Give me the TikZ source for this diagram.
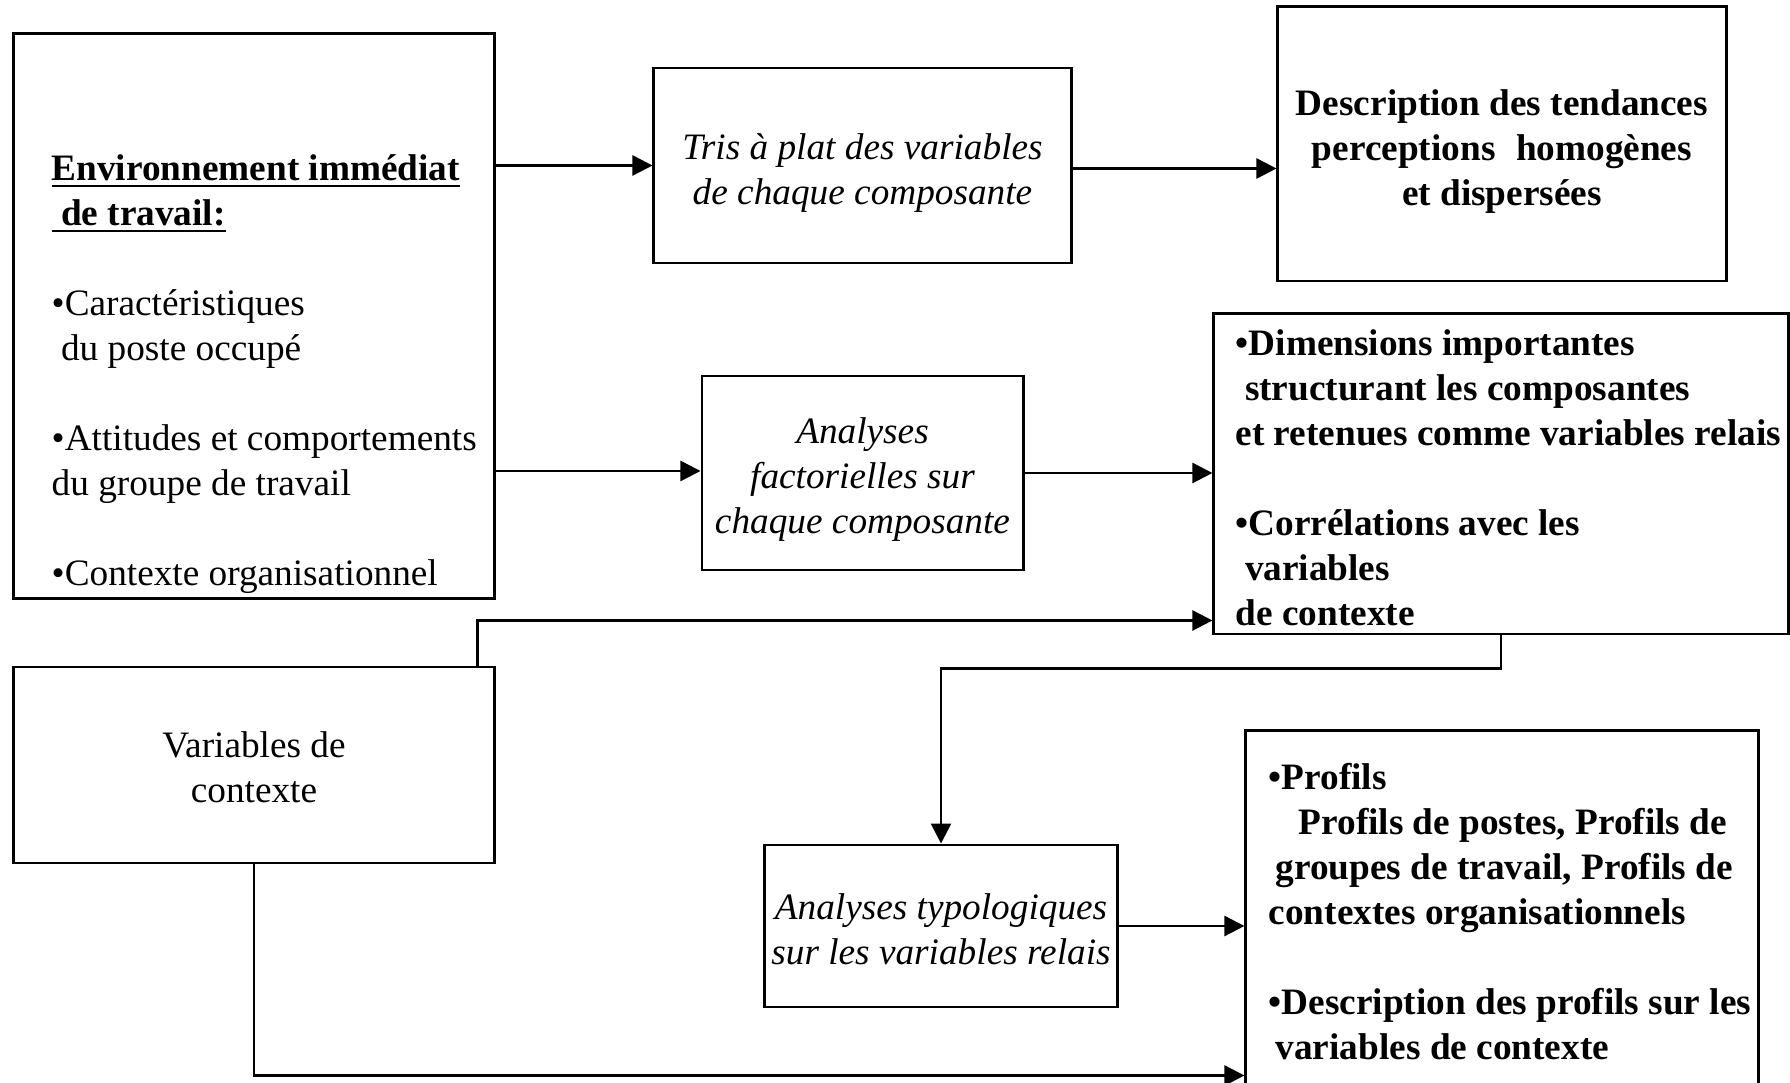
\documentclass[tikz,border=0pt]{standalone}
\usepackage{fontspec}
\setmainfont{Liberation Serif}
\usetikzlibrary{arrows.meta}

\begin{document}
\begin{tikzpicture}[
  x=0.01cm, y=-0.01cm,
  font=\fontsize{10.6}{12.8}\selectfont,
  box/.style={draw, line width=0.8pt, inner sep=0pt},
  note/.style={anchor=north west, inner sep=0pt, align=left},
  caption/.style={inner sep=0pt, align=center},
  flow/.style={-{Triangle[length=2mm, width=2mm]}, line width=0.7pt}
]
  \useasboundingbox (0,0) rectangle (1790,1083);
  \clip (0,0) rectangle (1790,1083);

  \node[box, minimum width=4.80cm, minimum height=5.64cm] (env) at (254,316) {};
  \node[note] (envtxt) at (51,154)
    {\underline{\textbf{Environnement immédiat}}\\
     \underline{\textbf{\hspace*{0.25em}de travail:}}\\[12.8pt]
     \textbullet Caractéristiques\\
     \hspace*{0.25em}du poste occupé\\[12.8pt]
     \textbullet Attitudes et comportements\\
     du groupe de travail\\[12.8pt]
     \textbullet Contexte organisationnel};

  \node[box, minimum width=4.17cm, minimum height=1.95cm] (tris) at (862.5,165.5) {};
  \node[caption, font=\fontsize{10.6}{12.8}\selectfont\itshape] (tristxt) at (862.5,173)
    {Tris à plat des variables\\de chaque composante};
  \node[box, minimum width=4.48cm, minimum height=2.74cm] (desc) at (1502,144) {};
  \node[caption, font=\fontsize{10.6}{12.8}\selectfont\bfseries] (desctxt) at (1502,152)
    {Description des tendances\\perceptions\hspace{0.3em} homogènes\\et dispersées};

  \node[box, minimum width=3.21cm, minimum height=1.94cm] (af) at (862.5,473) {};
  \node[caption, font=\fontsize{10.6}{12.8}\selectfont\itshape] (aftxt) at (862.5,480)
    {Analyses\\factorielles sur\\chaque composante};
  \node[box, minimum width=5.74cm, minimum height=3.20cm] (dim) at (1501,474) {};
  \node[note, font=\fontsize{10.6}{12.8}\selectfont\bfseries] (dimtxt) at (1235,328.7)
    {\textbullet Dimensions importantes\\
     \hspace*{0.25em}structurant les composantes\\
     et retenues comme variables relais\\[12.8pt]
     \textbullet Corrélations avec les\\
     \hspace*{0.25em}variables\\
     de contexte};

  \node[box, minimum width=4.80cm, minimum height=1.96cm] (vc) at (254,765) {};
  \node[caption] (vctxt) at (254,767)
    {Variables de\\contexte};
  \node[box, minimum width=3.52cm, minimum height=1.62cm] (typo) at (941,926) {};
  \node[caption, font=\fontsize{10.6}{12.8}\selectfont\itshape] (typotxt) at (941,929)
    {Analyses typologiques\\sur les variables relais};
  \node[box, minimum width=5.12cm, minimum height=3.64cm] (profils) at (1502,913) {};
  \node[note, font=\fontsize{10.6}{12.8}\selectfont\bfseries] (proftxt) at (1268,762.6)
    {\textbullet Profils\\
     \hspace*{0.3cm}Profils de postes, Profils de\\
     \hspace*{0.07cm}groupes de travail, Profils de\\
     contextes organisationnels\\[12.8pt]
     \textbullet Description des profils sur les\\
     \hspace*{0.07cm}variables de contexte};

  \draw[flow] (env.east |- tris.west) -- (tris.west);
  \draw[flow] ([yshift=-0.03cm]tris.east) -- ([yshift=-0.03cm]tris.east -| desc.west);
  \draw[flow] ([yshift=0.02cm]env.east |- af.west) -- ([yshift=0.02cm]af.west);
  \draw[flow] (af.east) -- (af.east -| dim.west);
  \draw[flow] ([xshift=-0.18cm]vc.north east) |- ([yshift=0.15cm]dim.south west);
  \draw[flow] (dim.south) -- ++(0,33) -| (typo.north);
  \draw[flow] (typo.east) -- (typo.east -| profils.west);
  \draw[flow] (vc.south) |- ([yshift=0.21cm]profils.south west);
\end{tikzpicture}
\end{document}
